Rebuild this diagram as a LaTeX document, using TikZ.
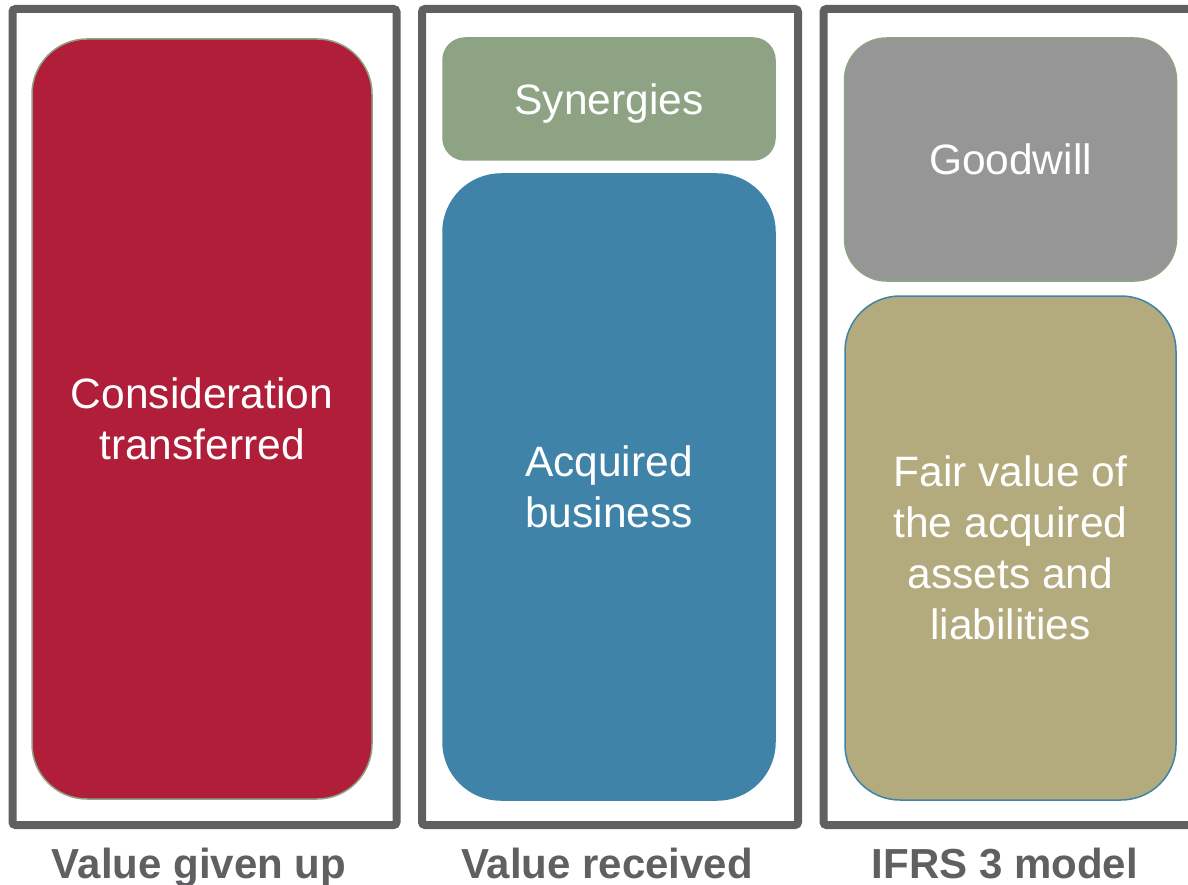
\documentclass[tikz,border=0pt]{standalone}
\usepackage{fontspec}
\setmainfont{Liberation Sans}
\definecolor{framegray}{HTML}{606062}
\definecolor{cred}{HTML}{B01E39}
\definecolor{cgreen}{HTML}{8DA383}
\definecolor{cblue}{HTML}{3F83A8}
\definecolor{cgray}{HTML}{969696}
\definecolor{colive}{HTML}{B3AA7D}
\tikzset{
  frame/.style={draw=framegray, line width=8pt, rounded corners=3pt},
  block/.style={rectangle, inner sep=0pt, align=center, text=white,
    font=\fontsize{42.5}{51}\selectfont, line width=1.5pt},
  caption/.style={text=framegray, font=\fontsize{42}{50}\selectfont\bfseries, inner sep=0pt, anchor=base}
}
\begin{document}
\begin{tikzpicture}[x=1pt,y=-1pt]
\useasboundingbox (0,0) rectangle (1188,885);
\clip (0,0) rectangle (1188,885);
\fill[white] (0,0) rectangle (1188,885);
% frames
\draw[frame] (12.5,9) rectangle (396.5,825);
\draw[frame] (422,9) rectangle (798,825);
\draw[frame] (823.5,9) rectangle (1212,825);
% blocks
\node[block, fill=cred, draw=cgreen, rounded corners=55pt,
  minimum width=340pt, minimum height=760pt] (consid) at (202,419)
  {Consideration\\transferred};
\node[block, fill=cgreen, draw=cgreen, rounded corners=22pt, text depth=0pt,
  minimum width=332pt, minimum height=122pt] (syn) at (609,99)
  {Synergies};
\node[block, fill=cblue, draw=cblue, rounded corners=58pt,
  minimum width=332pt, minimum height=626pt] (acq) at (609,487)
  {Acquired\\business};
\node[block, fill=cgray, draw=cgreen, rounded corners=42pt,
  minimum width=332pt, minimum height=243pt] (gw) at (1010.5,159.5)
  {Goodwill};
\node[block, fill=colive, draw=cblue, rounded corners=55pt,
  minimum width=331pt, minimum height=504pt] (fv) at (1010.5,548)
  {Fair value of\\the acquired\\assets and\\liabilities};
% captions
\node[caption] (c1) at (199,878) {Value given up};
\node[caption] (c2) at (607,878) {Value received};
\node[caption] (c3) at (1005,878) {IFRS 3 model};
\end{tikzpicture}
\end{document}
